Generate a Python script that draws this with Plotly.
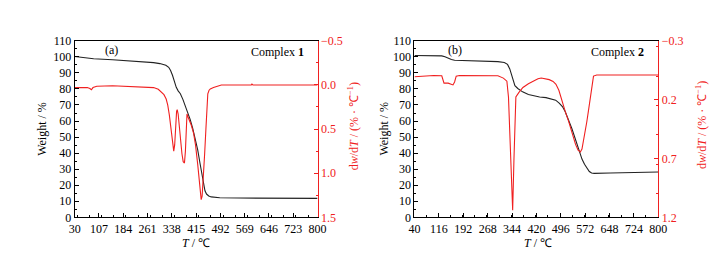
import plotly.graph_objects as go

# ---------------- Data: Complex 1 ----------------
T_w1 = [30, 50, 70, 90, 150, 200, 250, 280, 300, 319, 328, 334, 340, 346, 352, 358, 365, 373, 381,
        390, 396, 404, 412, 420, 427, 433, 438, 443, 448, 455, 463, 475, 490, 550, 650, 800]
W1 = [100.2, 99.8, 99.2, 98.8, 98.2, 97.6, 97.0, 96.4, 95.8, 94.8, 93.5, 91.5, 88.5, 84.5, 81.0, 78.8,
      77.0, 73.5, 69.5, 64.5, 61.0, 55.5, 49.5, 42.0, 34.0, 26.5, 20.5, 16.5, 14.5, 13.3, 12.7, 12.3,
      12.2, 12.0, 11.9, 11.8]

T_d1 = [30, 50, 70, 78, 83, 88, 100, 150, 200, 250, 280, 295, 305, 313, 320, 325, 330, 334, 338, 341,
        344, 347, 350, 353, 355, 358, 362, 366, 370, 374, 378, 381, 384, 386, 389, 394, 400, 407, 413,
        420, 425, 429, 431, 434, 438, 442, 446, 449, 452, 456, 460, 470, 480, 495, 550, 590, 592, 595,
        650, 800]
D1 = [0.03, 0.03, 0.03, 0.04, 0.055, 0.03, 0.015, 0.01, 0.015, 0.02, 0.03, 0.05, 0.08, 0.11, 0.16,
      0.23, 0.34, 0.46, 0.60, 0.70, 0.75, 0.68, 0.45, 0.30, 0.28, 0.33, 0.48, 0.65, 0.78, 0.87, 0.885,
      0.75, 0.45, 0.33, 0.36, 0.40, 0.46, 0.55, 0.68, 0.90, 1.10, 1.26, 1.30, 1.26, 1.05, 0.78, 0.50,
      0.25, 0.10, 0.06, 0.045, 0.03, 0.02, 0.0, 0.0, 0.0, -0.01, 0.0, 0.0, 0.0]

# ---------------- Data: Complex 2 ----------------
T_w2 = [40, 100, 125, 135, 145, 155, 165, 200, 250, 300, 320, 330, 337, 343, 348, 353, 362, 377, 395,
        410, 430, 450, 470, 480, 491, 501, 510, 516, 524, 531, 539, 547, 555, 562, 570, 577, 585, 592,
        600, 650, 700, 800]
W2 = [100.8, 100.8, 100.6, 100.0, 99.0, 98.3, 97.9, 97.7, 97.4, 97.0, 96.5, 95.3, 92.5, 88.0, 84.5,
      82.0, 80.3, 78.2, 76.5, 75.8, 75.0, 74.6, 73.8, 73.0, 71.2, 69.0, 65.8, 63.0, 59.0, 55.0, 50.2,
      45.2, 40.3, 36.3, 33.0, 30.5, 28.5, 27.6, 27.4, 27.6, 27.9, 28.2]

T_d2 = [40, 60, 80, 100, 125, 129, 132, 145, 152, 160, 165, 170, 180, 250, 300, 317, 328, 333, 338,
        343, 346, 350, 353, 356, 365, 378, 395, 409, 425, 435, 448, 460, 472, 481, 490, 496, 504, 511,
        520, 527, 535, 542, 550, 557, 562, 567, 572, 577, 583, 588, 593, 598, 608, 650, 700, 800]
D2 = [0.005, 0.0, -0.005, -0.005, -0.003, 0.03, 0.06, 0.06, 0.07, 0.075, 0.05, 0.0, -0.005, -0.005,
      -0.003, 0.017, 0.043, 0.18, 0.58, 0.98, 1.14, 0.71, 0.31, 0.177, 0.14, 0.097, 0.065, 0.043,
      0.022, 0.016, 0.02, 0.03, 0.045, 0.07, 0.12, 0.177, 0.25, 0.31, 0.38, 0.445, 0.52, 0.58, 0.63,
      0.645, 0.62, 0.55, 0.47, 0.39, 0.28, 0.177, 0.07, 0.0, -0.01, -0.01, -0.012, -0.01]

W = 721
H = 256
FONT = "Liberation Serif, Times New Roman, Times, serif"
RED = "#f02020"
BLACK = "#222222"
FS = 12

fig = go.Figure()
fig.add_trace(go.Scatter(x=T_w1, y=W1, mode="lines", line=dict(color=BLACK, width=1.1),
                         xaxis="x", yaxis="y", showlegend=False))
fig.add_trace(go.Scatter(x=T_d1, y=D1, mode="lines", line=dict(color=RED, width=1.1),
                         xaxis="x", yaxis="y2", showlegend=False))
fig.add_trace(go.Scatter(x=T_w2, y=W2, mode="lines", line=dict(color=BLACK, width=1.1),
                         xaxis="x2", yaxis="y3", showlegend=False))
fig.add_trace(go.Scatter(x=T_d2, y=D2, mode="lines", line=dict(color=RED, width=1.1),
                         xaxis="x2", yaxis="y4", showlegend=False))

def px_x(p):
    return p / W

def px_y(p):
    return 1 - p / H

ydom = [px_y(214), px_y(27.3)]
tickfont = dict(family=FONT, size=FS, color="black")
redfont = dict(family=FONT, size=FS, color=RED)

def xax(domain, lo, hi, dt, anchor):
    return dict(domain=domain, range=[lo, hi], tick0=lo, dtick=dt, anchor=anchor,
                showline=True, linecolor="black", linewidth=1, mirror=True,
                ticks="inside", ticklen=4, tickcolor="black",
                minor=dict(ticks="inside", ticklen=2, dtick=dt / 2, tickcolor="black"),
                showgrid=False, zeroline=False, tickfont=tickfont, fixedrange=True)

def yleft(anchor):
    return dict(domain=ydom, range=[0, 110], dtick=10, anchor=anchor,
                showline=True, linecolor="black", linewidth=1,
                ticks="inside", ticklen=4, tickcolor="black",
                minor=dict(ticks="inside", ticklen=2, dtick=5, tickcolor="black"),
                showgrid=False, zeroline=False, tickfont=tickfont)

def yright(overlay, anchor, lo, hi):
    return dict(overlaying=overlay, side="right", anchor=anchor, range=[hi, lo],
                tick0=lo, dtick=0.5, tickformat=".1f",
                showline=True, linecolor=RED, linewidth=1,
                ticks="inside", ticklen=4, tickcolor=RED,
                minor=dict(ticks="inside", ticklen=2, dtick=0.25, tickcolor=RED),
                showgrid=False, zeroline=False, tickfont=redfont)

fig.update_layout(
    width=W, height=H,
    margin=dict(l=0, r=0, t=0, b=0),
    paper_bgcolor="white", plot_bgcolor="white",
    font=dict(family=FONT, size=FS, color="black"),
    xaxis=xax([px_x(62), px_x(310)], 30, 800, 77, "y"),
    yaxis=yleft("x"),
    yaxis2=yright("y", "x", -0.5, 1.5),
    xaxis2=xax([px_x(409), px_x(658)], 40, 800, 76, "y3"),
    yaxis3=yleft("x2"),
    yaxis4=yright("y3", "x2", -0.3, 1.2),
)

def ann(x, y, text, color="black", angle=0, xanchor="center", size=FS):
    fig.add_annotation(x=px_x(x), y=px_y(y), xref="paper", yref="paper", text=text,
                       showarrow=False, textangle=angle, xanchor=xanchor, yanchor="middle",
                       font=dict(family=FONT, size=size, color=color))

# Panel a texts
ann(100, 37, "(a)")
ann(298, 39, "Complex <b>1</b>", xanchor="right")
ann(29, 120, "Weight / %", angle=-90)
ann(347, 118, "d<i>w</i>/d<i>T</i> / (% · ℃<sup>−1</sup>)", color=RED, angle=-90)
ann(186, 241, "<i>T</i> / ℃")

# Panel b texts
ann(450, 37, "(b)")
ann(645, 39, "Complex <b>2</b>", xanchor="right")
ann(378, 120, "Weight / %", angle=-90)
ann(702, 116, "d<i>w</i>/d<i>T</i> / (% · ℃<sup>−1</sup>)", color=RED, angle=-90)
ann(535, 241, "<i>T</i> / ℃")

fig.write_html("out.html")
